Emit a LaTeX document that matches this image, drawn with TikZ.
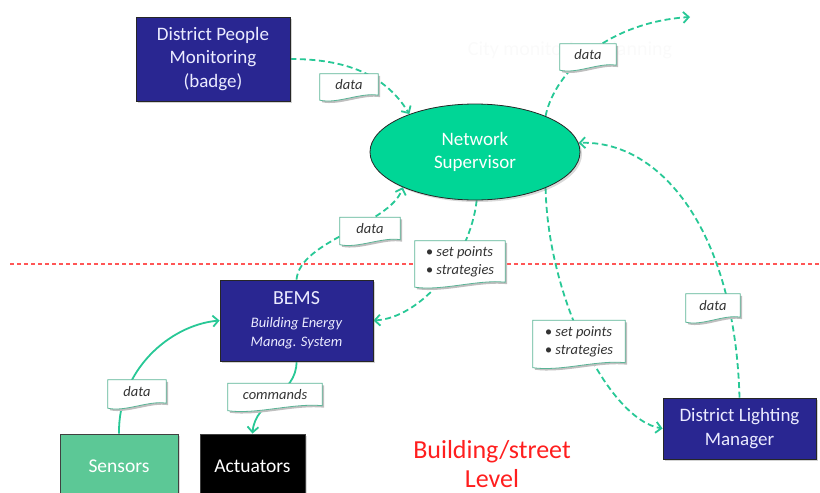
\documentclass[tikz,border=0pt]{standalone}
\usepackage{fontspec}
\setmainfont{Carlito}
\usetikzlibrary{arrows.meta,shadows,calc,shapes.geometric}
\definecolor{navy}{RGB}{41,38,145}
\definecolor{mint}{RGB}{0,214,150}
\definecolor{tealc}{RGB}{40,200,150}
\definecolor{noteb}{RGB}{90,180,150}
\definecolor{sens}{RGB}{92,200,150}
\definecolor{redl}{RGB}{255,30,30}
\pgfdeclarelayer{back}
\pgfdeclarelayer{mid}
\pgfsetlayers{back,mid,main}
\tikzset{
  bluebox/.style={draw=black!85, line width=0.8pt, fill=navy, text=white!92!blue, align=center, inner sep=0pt,
    font=\fontsize{19}{23.5}\selectfont, drop shadow={shadow xshift=2pt, shadow yshift=-2pt, opacity=0.35}},
  conn/.style={draw=tealc, line width=1.8pt, dash pattern=on 6pt off 3.5pt, -{Straight Barb[length=5.5pt,width=11pt]}},
  solidconn/.style={draw=tealc, line width=1.8pt, -{Straight Barb[length=5.5pt,width=11pt]}},
  notebase/.style={draw=none, inner sep=0pt},
  notetxt/.style={text=black!80, font=\fontsize{14.5}{18}\selectfont\itshape, align=left, inner sep=0pt},
}
\newcommand\notebox[5]{%
  \node[notebase, minimum width=#3, minimum height=#4] (#1) at (#2) {};
  \node[notetxt] (#1t) at ([yshift=2pt]#1.center) {#5};
  \begin{pgfonlayer}{mid}
    \fill[black!25, transform canvas={shift={(2pt,-2pt)}}] (#1.north west) -- (#1.north east) -- ([yshift=5pt]#1.south east)
      .. controls ($(#1.south west)!0.7!(#1.south east)+(0,8pt)$) and ($(#1.south west)!0.3!(#1.south east)+(0,-4pt)$) .. (#1.south west) -- cycle;
    \filldraw[fill=white, draw=noteb, line width=0.8pt] (#1.north west) -- (#1.north east) -- ([yshift=5pt]#1.south east)
      .. controls ($(#1.south west)!0.7!(#1.south east)+(0,8pt)$) and ($(#1.south west)!0.3!(#1.south east)+(0,-4pt)$) .. (#1.south west) -- cycle;
  \end{pgfonlayer}}
\begin{document}
\begin{tikzpicture}[x=1pt,y=-1pt]
\useasboundingbox (0,0) rectangle (820,493);

% boxes
\node[bluebox, minimum width=154pt, minimum height=84pt] (dpm) at (213,59) {District People\\Monitoring\\(badge)};
\node[ellipse, draw=black!85, line width=0.8pt, fill=mint, text=white, minimum width=210pt, minimum height=96pt, inner sep=0pt,
  font=\fontsize{19}{23}\selectfont, align=center, drop shadow={shadow xshift=2pt, shadow yshift=-2pt, opacity=0.3}] (ns) at (475,152) {Network\\Supervisor};
\node[bluebox, minimum width=153pt, minimum height=81pt] (bems) at (296.5,320.5)
  {{\fontsize{20}{24}\selectfont BEMS}\\[-1pt]{\fontsize{14.5}{17}\selectfont\itshape Building Energy}\\[-4pt]{\fontsize{14.5}{17}\selectfont\itshape Manag. System}};
\node[draw=black!75, line width=0.8pt, fill=sens, text=white, minimum width=118pt, minimum height=64pt, inner sep=0pt,
  font=\fontsize{19.5}{23}\selectfont, drop shadow={shadow xshift=2pt, shadow yshift=-2pt, opacity=0.3}] (sensors) at (119,466) {Sensors};
\node[draw=black!75, line width=0.8pt, fill=black, text=white, minimum width=105pt, minimum height=64pt, inner sep=0pt,
  font=\fontsize{19.5}{23}\selectfont, drop shadow={shadow xshift=2pt, shadow yshift=-2pt, opacity=0.3}] (actuators) at (252.5,466) {Actuators};
\node[bluebox, minimum width=153pt, minimum height=61pt] (dlm) at (739.5,428.5) {District Lighting\\Manager};

\node[text=redl, font=\fontsize{26}{29}\selectfont, align=center] (level) at (492,464) {Building/street\\Level};

% background items and connectors
\begin{pgfonlayer}{back}
  \node[text=black!2, font=\fontsize{20}{24}\selectfont] (city) at (570,50) {City monitoring/planning};
  \draw[redl!75, line width=1.1pt, dash pattern=on 4pt off 3pt] (10,264) coordinate (rl) -- (820,264) coordinate (rr);
  \coordinate (topend) at (690,17);
  \draw[conn] (dpm.east) .. controls (345,59) and (385,74) .. (ns.150);
  \draw[conn] (ns.27) .. controls (555,70) and (610,22) .. (topend);
  \draw[conn] (bems.north) .. controls (300,240) and (390,225) .. (ns.206);
  \draw[conn] (ns.272) .. controls (470,260) and (420,318) .. (bems.east);
  \draw[conn] (ns.-27) .. controls (548,300) and (610,420) .. (dlm.west);
  \draw[conn] (dlm.north) .. controls (735,230) and (660,140) .. (ns.5);
  \draw[solidconn] (sensors.north) .. controls (118,370) and (170,325) .. (bems.west);
  \draw[solidconn] (bems.south) .. controls (297,395) and (255,400) .. (actuators.north);
\end{pgfonlayer}

% notes
\notebox{n1}{349,87}{58pt}{26pt}{data}
\notebox{n2}{588,57}{56pt}{26pt}{data}
\notebox{n3}{370,231}{60pt}{27pt}{data}
\notebox{n4}{460,264}{90pt}{46pt}{• set points\\• strategies}
\notebox{n5}{579,344}{92pt}{47pt}{• set points\\• strategies}
\notebox{n6}{713,308}{54pt}{28pt}{data}
\notebox{n7}{137,394}{58pt}{28pt}{data}
\notebox{n8}{275,397}{94pt}{27pt}{commands}
\end{tikzpicture}
\end{document}
